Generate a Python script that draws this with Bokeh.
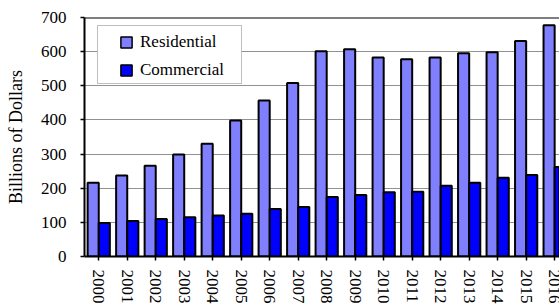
import math
from bokeh.plotting import figure
from bokeh.models import (ColumnDataSource, Legend, LegendItem, FixedTicker,
                          Range1d, Span)
from bokeh.transform import dodge
from bokeh.embed import file_html
from bokeh.resources import INLINE

# ---- data ----
years = ["2000", "2001", "2002", "2003", "2004", "2005", "2006", "2007", "2008",
         "2009", "2010", "2011", "2012", "2013", "2014", "2015", "2016"]
residential = [216, 237, 266, 299, 330, 398, 457, 508, 601, 607, 583, 578, 583,
               595, 598, 631, 677]
commercial = [98, 104, 110, 115, 120, 125, 139, 145, 174, 180, 188, 190, 207,
              216, 231, 239, 262]
y_ticks = [0, 100, 200, 300, 400, 500, 600, 700]
series_names = ["Residential", "Commercial"]
series_colors = ["#8080FF", "#0000FF"]

idx = list(range(len(years)))
src = ColumnDataSource(dict(idx=idx, year=years, res=residential, com=commercial))

FONT = "Liberation Serif"

p = figure(frame_width=475, frame_height=239, output_backend="svg",
           toolbar_location=None,
           x_range=Range1d(-0.5, 16.17), y_range=Range1d(y_ticks[0], y_ticks[-1]),
           min_border_left=84, min_border_top=17, min_border_right=0,
           min_border_bottom=0)
p.outline_line_color = None
p.background_fill_color = "white"
p.border_fill_color = "white"

bw = 0.39
r_res = p.vbar(x=dodge("idx", -bw / 2), top="res", width=bw, source=src,
               fill_color=series_colors[0], line_color="black", line_width=2)
r_com = p.vbar(x=dodge("idx", bw / 2), top="com", width=bw, source=src,
               fill_color=series_colors[1], line_color="black", line_width=2)

# zero-size markers used only for square legend swatches
m_res = p.scatter(x=dodge("idx", -bw / 2), y="res", source=src, marker="square",
                  size=0, fill_color=series_colors[0], line_color="black",
                  line_width=1.5)
m_com = p.scatter(x=dodge("idx", bw / 2), y="com", source=src, marker="square",
                  size=0, fill_color=series_colors[1], line_color="black",
                  line_width=1.5)
m_box = p.scatter(x=dodge("idx", bw / 2), y="com", source=src, marker="square",
                  size=0, fill_alpha=0, line_alpha=0)

# top border line of plot area
p.add_layout(Span(location=y_ticks[-1], dimension="width", line_color="black",
                  line_width=2))

# grid
p.xgrid.grid_line_color = None
p.ygrid.ticker = FixedTicker(ticks=y_ticks)
p.ygrid.grid_line_color = "#222222"
p.ygrid.grid_line_dash = "1 1"
p.ygrid.grid_line_width = 1

# y axis
ya = p.yaxis[0]
ya.ticker = FixedTicker(ticks=y_ticks)
ya.axis_line_width = 2
ya.axis_line_color = "black"
ya.major_tick_out = 4
ya.major_tick_in = 0
ya.major_tick_line_width = 1.5
ya.minor_tick_line_color = None
ya.major_label_standoff = 14
ya.major_label_text_font = FONT
ya.major_label_text_font_size = "17px"
ya.major_label_text_color = "black"
ya.axis_label = "Billions of Dollars"
ya.axis_label_text_font = FONT
ya.axis_label_text_font_size = "18px"
ya.axis_label_text_font_style = "normal"
ya.axis_label_text_color = "black"
ya.axis_label_standoff = 12

# x axis
xa = p.xaxis[0]
xa.ticker = FixedTicker(ticks=idx)
xa.major_label_overrides = {i: y for i, y in zip(idx, years)}
xa.axis_line_width = 2
xa.axis_line_color = "black"
xa.major_tick_out = 4
xa.major_tick_in = 0
xa.major_tick_line_width = 1.5
xa.minor_tick_line_color = None
xa.major_label_standoff = 9
xa.major_label_orientation = -math.pi / 2
xa.major_label_text_font = FONT
xa.major_label_text_font_size = "17px"
xa.major_label_text_color = "black"

# legend frame (white box with grey border)
legend_box = Legend(items=[LegendItem(label=" ", renderers=[m_box])],
                    location=(13, 172), padding=0, spacing=0, margin=0,
                    glyph_width=36, glyph_height=57, label_standoff=0,
                    label_width=107, label_height=57,
                    label_text_font_size="1px",
                    border_line_color="#808080", border_line_width=1,
                    background_fill_color="white", background_fill_alpha=1)
p.add_layout(legend_box)

# legend entries
legend = Legend(items=[LegendItem(label=series_names[0], renderers=[m_res]),
                       LegendItem(label=series_names[1], renderers=[m_com])],
                location=(28, 172), padding=0, spacing=0, margin=0,
                glyph_width=28, glyph_height=28, label_standoff=0,
                label_height=28,
                label_text_font=FONT, label_text_font_size="17px",
                label_text_color="black",
                border_line_color=None, background_fill_alpha=0)
p.add_layout(legend)

open("out.html", "w").write(file_html(p, INLINE))
